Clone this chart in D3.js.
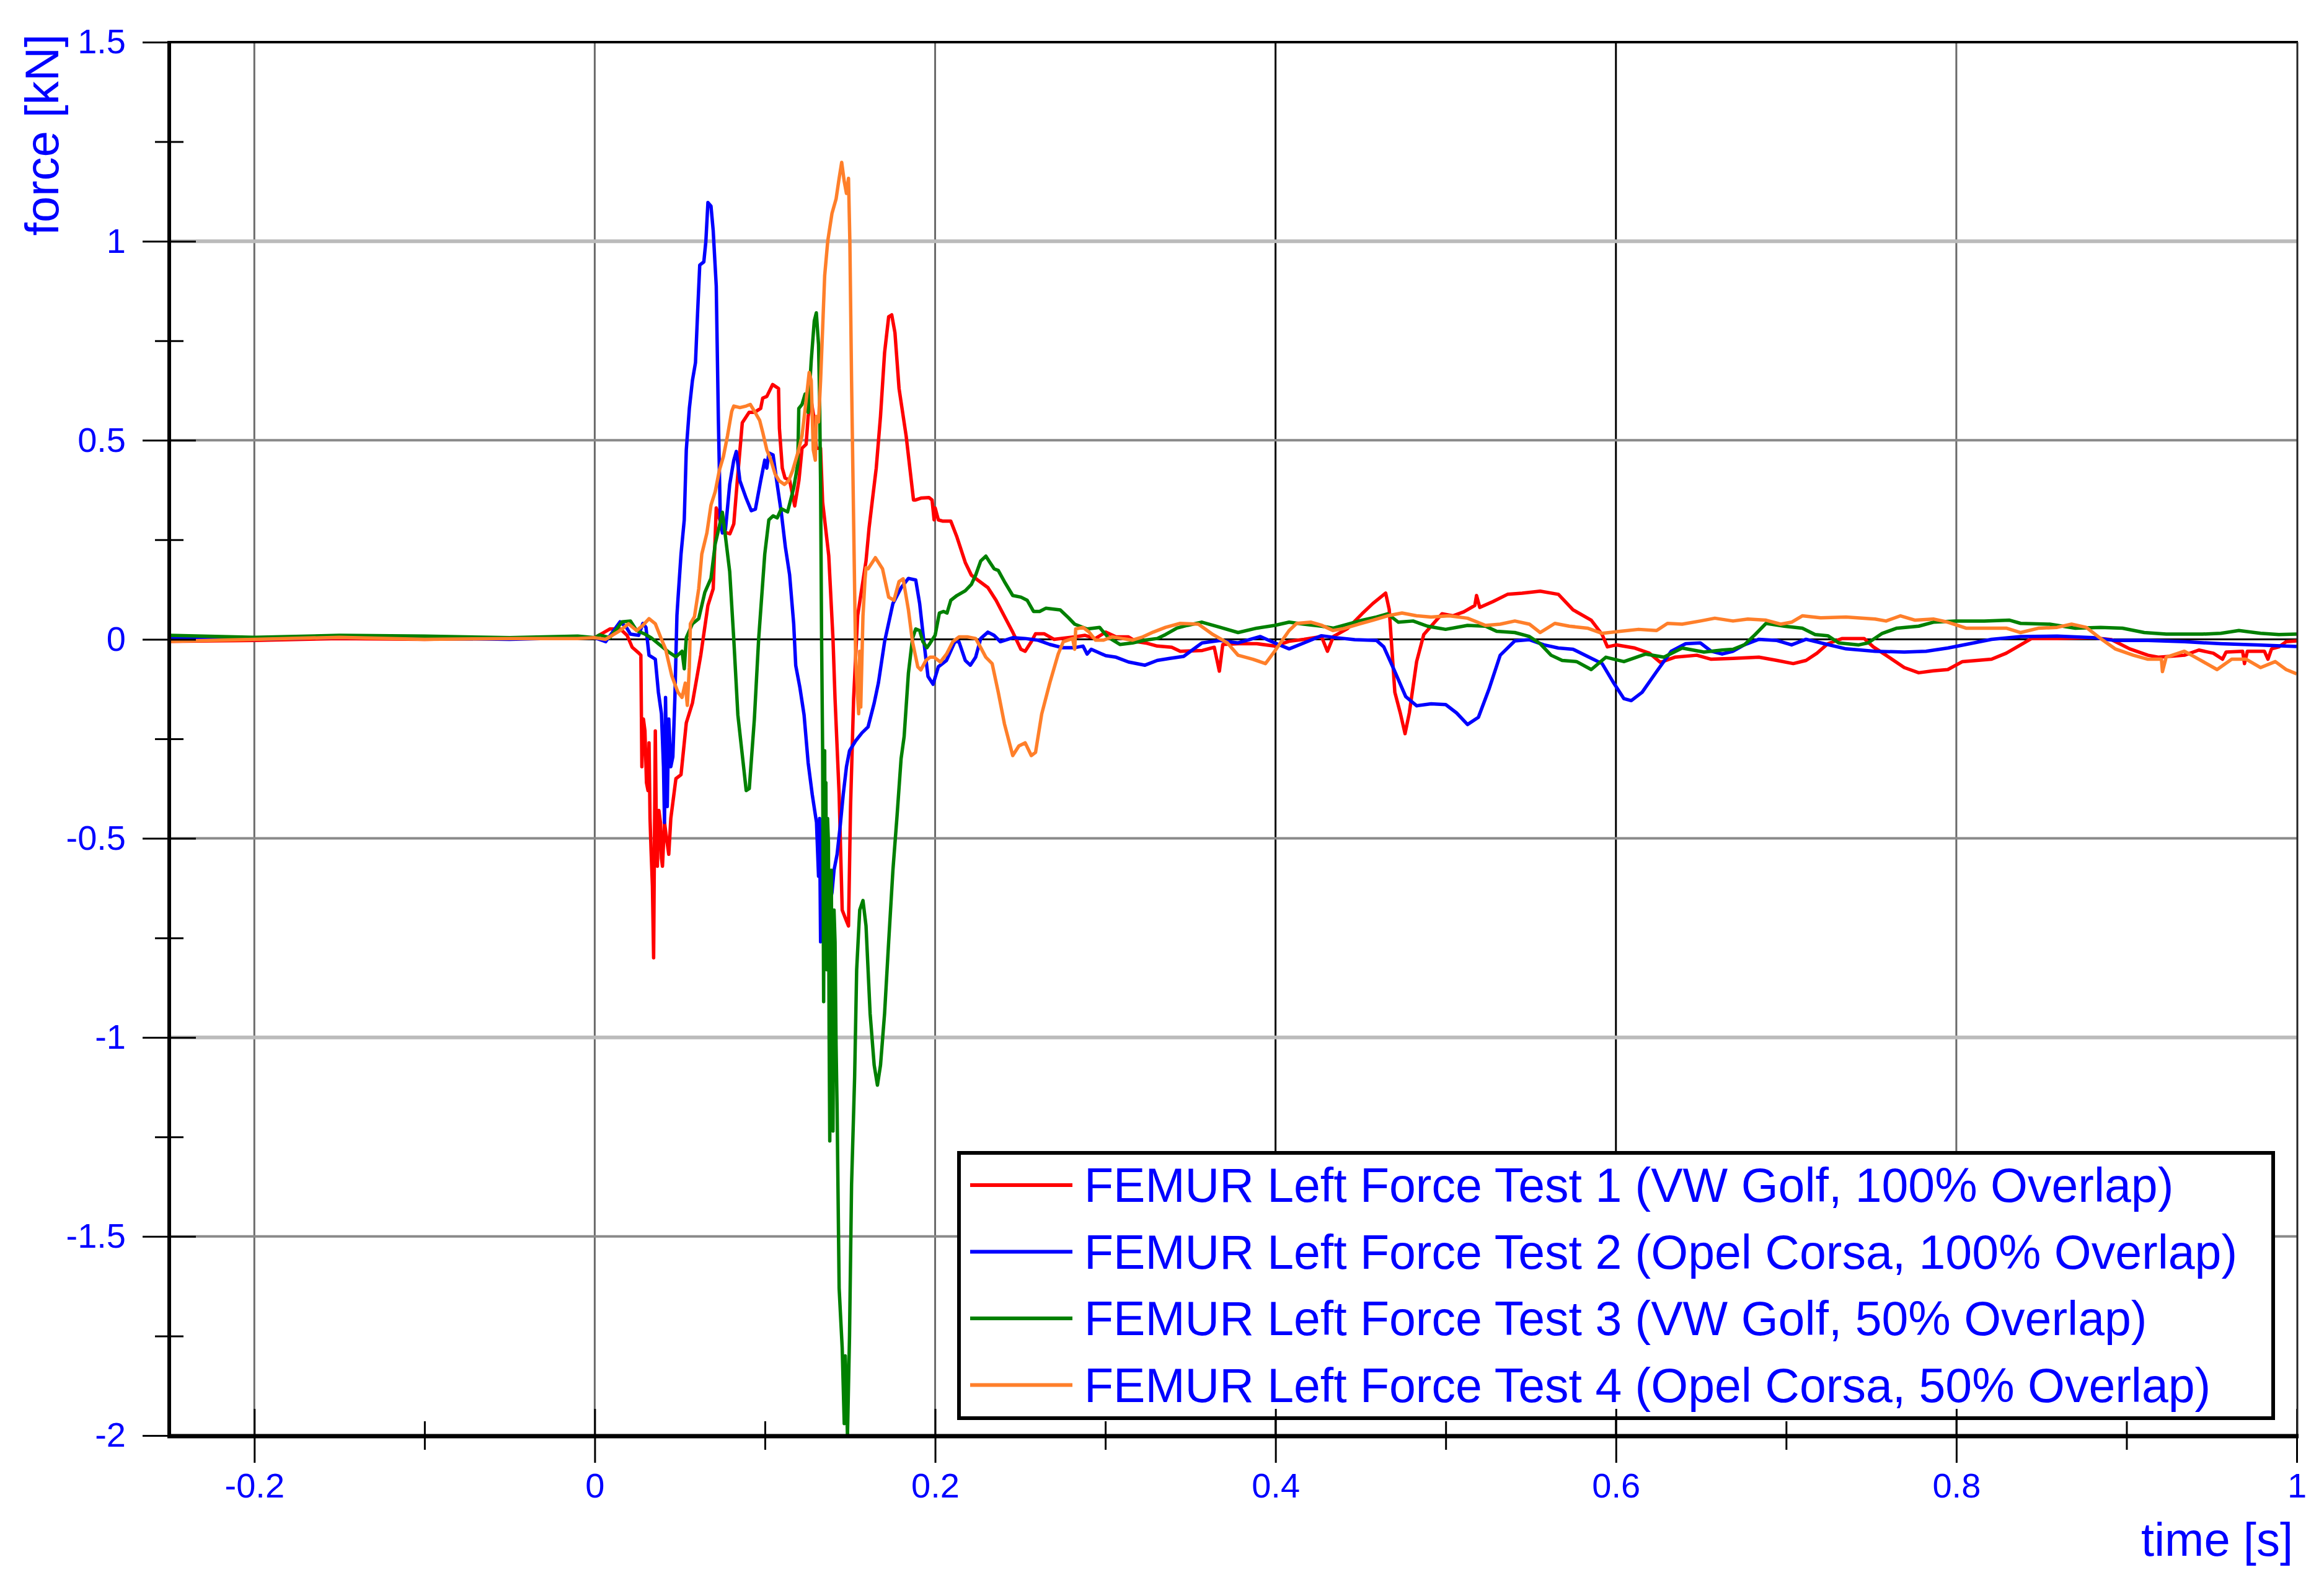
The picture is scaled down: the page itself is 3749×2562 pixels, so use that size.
<!DOCTYPE html>
<html>
<head>
<meta charset="utf-8">
<script src="https://cdnjs.cloudflare.com/ajax/libs/d3/7.8.5/d3.min.js"></script>
<style>
  body { margin: 0; background: #fff; }
  text { font-family: "Liberation Sans", Arial, sans-serif; fill: #0000ff; }
</style>
</head>
<body>
<div class="chart"></div>
<script>
//Series names (legend order)
var seriesNames = [
  "FEMUR Left Force Test 1 (VW Golf, 100% Overlap)",
  "FEMUR Left Force Test 2 (Opel Corsa, 100% Overlap)",
  "FEMUR Left Force Test 3 (VW Golf, 50% Overlap)",
  "FEMUR Left Force Test 4 (Opel Corsa, 50% Overlap)"
];
var seriesColors = ["#ff0000", "#0000ff", "#008000", "#ff7f2a"];

//Tick values
var xMajorTicks = [-0.2, 0, 0.2, 0.4, 0.6, 0.8, 1];
var xMinorTicks = [-0.1, 0.1, 0.3, 0.5, 0.7, 0.9];
var yMajorTicks = [1.5, 1, 0.5, 0, -0.5, -1, -1.5, -2];
var yMinorTicks = [1.25, 0.75, 0.25, -0.25, -0.75, -1.25, -1.75];

//Test 1 : [time s, force kN]
var test1 = [[-0.25,-0.005],[-0.2,-0.003],[-0.15,0.002],[-0.1,0],[-0.05,0.003],[-0.01,0.004],[0,0.004],[0.009,0.026],[0.015,0.026],[0.019,0.01],[0.022,-0.02],[0.026,-0.035],
  [0.0271,-0.04],[0.0277,-0.32],[0.0286,-0.2],[0.0295,-0.23],[0.0304,-0.36],[0.0313,-0.38],[0.0319,-0.26],[0.0325,-0.45],[0.0331,-0.53],[0.0339,-0.62],[0.0346,-0.80],[0.0351,-0.5],[0.0356,-0.23],[0.0362,-0.48],[0.0368,-0.57],[0.0377,-0.43],[0.0386,-0.46],[0.0392,-0.55],[0.0398,-0.57],[0.041,-0.46],[0.0422,-0.5],[0.0435,-0.54],[0.0447,-0.45],[0.0477,-0.35],[0.0507,-0.34],[0.0538,-0.21],[0.0574,-0.16],[0.0623,-0.04],[0.0665,0.085],[0.0696,0.127],
  [0.0714,0.33],[0.0756,0.27],[0.0794,0.265],[0.0817,0.29],[0.0838,0.40],[0.0867,0.544],[0.0907,0.57],[0.0938,0.57],[0.0975,0.58],[0.0987,0.606],[0.1011,0.61],[0.1045,0.64],[0.108,0.63],[0.1085,0.53],[0.1102,0.43],[0.1118,0.405],[0.1145,0.40],[0.1175,0.335],[0.12,0.40],[0.1218,0.48],[0.1242,0.49],[0.1254,0.56],[0.1272,0.60],[0.129,0.55],[0.1302,0.48],[0.1327,0.48],[0.1339,0.345],[0.1375,0.21],[0.14,0],[0.1412,-0.15],[0.1436,-0.39],[0.1454,-0.68],[0.1472,-0.70],[0.1491,-0.72],[0.1503,-0.42],[0.1521,-0.15],[0.1545,0.06],[0.1594,0.197],[0.1612,0.28],[0.163,0.345],[0.1654,0.43],[0.1679,0.56],[0.1703,0.72],[0.1727,0.81],[0.1745,0.815],[0.1764,0.77],[0.1788,0.63],[0.183,0.51],[0.1873,0.35],[0.1885,0.35],[0.192,0.355],[0.1964,0.356],[0.1982,0.35],[0.1994,0.30],[0.2,0.33],[0.2019,0.30],[0.2043,0.297],[0.2092,0.297],[0.2128,0.257],[0.2177,0.193],[0.2213,0.161],[0.225,0.149],[0.231,0.13],[0.2358,0.098],[0.2407,0.058],[0.2456,0.018],[0.2504,-0.025],[0.2529,-0.03],[0.2565,-0.006],[0.259,0.014],[0.264,0.014],[0.2698,0],[0.2759,0.003],[0.282,0.006],[0.2881,0.01],[0.2942,0.002],[0.3002,0.018],[0.3063,0.006],[0.3136,0.006],[0.3184,-0.006],[0.3245,-0.01],[0.3305,-0.017],[0.339,-0.02],[0.344,-0.03],[0.357,-0.028],[0.364,-0.02],[0.367,-0.08],[0.369,-0.013],[0.378,-0.011],[0.389,-0.011],[0.3995,-0.017],[0.408,-0.005],[0.4167,0],[0.427,0.007],[0.4305,-0.03],[0.434,0.007],[0.4423,0.027],[0.4508,0.064],[0.4572,0.09],[0.4647,0.116],[0.4668,0.075],[0.4701,-0.133],[0.4733,-0.185],[0.4761,-0.237],[0.4786,-0.185],[0.4829,-0.056],[0.4871,0.012],[0.4914,0.033],[0.4978,0.064],[0.5042,0.059],[0.5106,0.069],[0.5171,0.085],[0.5181,0.11],[0.52,0.08],[0.5278,0.095],[0.5363,0.113],[0.5449,0.116],[0.5555,0.121],[0.5662,0.113],[0.5748,0.074],[0.5855,0.048],[0.5919,0.012],[0.595,-0.019],[0.6004,-0.014],[0.6111,-0.022],[0.6197,-0.035],[0.6261,-0.058],[0.6346,-0.045],[0.6475,-0.04],[0.656,-0.05],[0.6688,-0.048],[0.684,-0.045],[0.6946,-0.053],[0.7042,-0.061],[0.7117,-0.053],[0.7181,-0.035],[0.7245,-0.011],[0.733,0.002],[0.7459,0.002],[0.7512,-0.019],[0.7587,-0.04],[0.7694,-0.071],[0.7779,-0.084],[0.7865,-0.079],[0.795,-0.076],[0.8036,-0.056],[0.8207,-0.05],[0.8293,-0.035],[0.8378,-0.014],[0.8442,0.002],[0.8592,0.002],[0.8805,0.004],[0.8912,-0.001],[0.9019,-0.024],[0.9126,-0.04],[0.919,-0.045],[0.934,-0.04],[0.9425,-0.027],[0.951,-0.035],[0.9564,-0.05],[0.9585,-0.032],[0.9682,-0.03],[0.9693,-0.061],[0.971,-0.03],[0.981,-0.03],[0.9831,-0.05],[0.9852,-0.024],[0.9895,-0.019],[0.9938,-0.006],[1,-0.004]];

//Test 2
var test2 = [[-0.25,0.003],[-0.2,0],[-0.15,0.005],[-0.1,0.002],[-0.05,0],[-0.01,0.004],[0,0.004],[0.0064,-0.006],[0.0149,0.044],[0.0186,0.03],[0.021,0.013],[0.0258,0.01],[0.0283,0.04],[0.0301,0.03],[0.0319,-0.04],[0.0356,-0.05],[0.0374,-0.133],[0.0392,-0.187],[0.0404,-0.32],[0.041,-0.46],[0.0416,-0.146],[0.0426,-0.42],[0.0435,-0.2],[0.0447,-0.32],[0.0459,-0.295],[0.0471,-0.146],[0.0483,0.06],[0.0489,0.10],[0.0507,0.214],[0.0526,0.30],[0.0538,0.476],[0.0556,0.58],[0.0574,0.65],[0.0592,0.695],[0.0605,0.826],[0.0617,0.94],[0.0641,0.948],[0.0653,1.0],[0.0665,1.097],[0.0683,1.088],[0.0696,1.027],[0.0714,0.887],[0.0726,0.564],[0.0738,0.30],[0.075,0.267],[0.0768,0.275],[0.0793,0.389],[0.0817,0.45],[0.0832,0.472],[0.0853,0.398],[0.089,0.354],[0.092,0.323],[0.0944,0.327],[0.0975,0.398],[0.0999,0.45],[0.1011,0.43],[0.1023,0.468],[0.1048,0.463],[0.1072,0.389],[0.1096,0.319],[0.112,0.232],[0.1145,0.162],[0.1169,0.039],[0.1181,-0.066],[0.1205,-0.12],[0.123,-0.19],[0.1254,-0.31],[0.1278,-0.39],[0.1303,-0.46],[0.1315,-0.595],[0.1321,-0.45],[0.1327,-0.76],[0.1345,-0.74],[0.1363,-0.70],[0.1394,-0.636],[0.1406,-0.58],[0.1424,-0.54],[0.1442,-0.47],[0.146,-0.39],[0.1479,-0.32],[0.1497,-0.28],[0.1533,-0.255],[0.157,-0.235],[0.1606,-0.22],[0.1642,-0.16],[0.1667,-0.109],[0.1703,-0.006],[0.1752,0.09],[0.1801,0.13],[0.1843,0.153],[0.1886,0.149],[0.1909,0.09],[0.1934,-0.006],[0.1958,-0.093],[0.1988,-0.113],[0.2019,-0.069],[0.2067,-0.053],[0.2116,-0.006],[0.214,-0.006],[0.2177,-0.053],[0.2207,-0.065],[0.2238,-0.045],[0.2268,0.002],[0.231,0.018],[0.2346,0.01],[0.2383,-0.006],[0.2456,0.004],[0.2529,0.002],[0.2602,-0.002],[0.2674,-0.013],[0.2747,-0.021],[0.282,-0.021],[0.2869,-0.017],[0.2893,-0.037],[0.2917,-0.025],[0.3002,-0.041],[0.3063,-0.045],[0.3136,-0.057],[0.3233,-0.065],[0.3305,-0.053],[0.3378,-0.048],[0.346,-0.043],[0.3568,-0.009],[0.3675,-0.003],[0.378,-0.009],[0.3911,0.007],[0.3995,-0.009],[0.408,-0.024],[0.4167,-0.009],[0.427,0.009],[0.4358,0.004],[0.4465,-0.001],[0.4594,-0.003],[0.4636,-0.019],[0.4701,-0.081],[0.4765,-0.144],[0.4829,-0.167],[0.4914,-0.162],[0.5,-0.164],[0.5064,-0.185],[0.5128,-0.214],[0.5192,-0.196],[0.5256,-0.123],[0.532,-0.04],[0.5406,-0.004],[0.5492,-0.001],[0.5577,-0.014],[0.5662,-0.022],[0.5748,-0.025],[0.5833,-0.043],[0.5919,-0.061],[0.5983,-0.107],[0.6047,-0.149],[0.609,-0.154],[0.6154,-0.133],[0.6239,-0.081],[0.6325,-0.03],[0.641,-0.011],[0.6496,-0.009],[0.656,-0.03],[0.6624,-0.037],[0.6688,-0.03],[0.6754,-0.014],[0.684,0],[0.6946,-0.003],[0.7032,-0.014],[0.7117,0],[0.7224,-0.011],[0.7352,-0.024],[0.7523,-0.03],[0.7694,-0.032],[0.7822,-0.03],[0.795,-0.022],[0.8079,-0.011],[0.8207,0],[0.8378,0.007],[0.8592,0.008],[0.8805,0.004],[0.8933,-0.003],[0.9126,-0.003],[0.934,-0.006],[0.9554,-0.011],[0.9768,-0.014],[1,-0.018]];

//Test 3
var test3 = [[-0.25,0.01],[-0.2,0.005],[-0.15,0.01],[-0.1,0.008],[-0.05,0.004],[-0.01,0.008],[0,0.004],[0.0028,0.011],[0.0089,0.004],[0.0161,0.044],[0.021,0.046],[0.0246,0.022],[0.0295,0.013],[0.0331,0.004],[0.038,-0.013],[0.0428,-0.03],[0.0477,-0.044],[0.0513,-0.03],[0.0526,-0.074],[0.0538,0.004],[0.0574,0.039],[0.0611,0.052],[0.0647,0.118],[0.0683,0.153],[0.0708,0.24],[0.0732,0.284],[0.075,0.319],[0.0768,0.258],[0.0793,0.17],[0.0817,0],[0.0841,-0.19],[0.0872,-0.31],[0.089,-0.38],[0.0908,-0.375],[0.0938,-0.2],[0.0963,0],[0.0999,0.214],[0.1023,0.30],[0.1048,0.31],[0.1072,0.305],[0.1096,0.328],[0.1133,0.32],[0.1169,0.38],[0.1193,0.44],[0.1199,0.58],[0.1218,0.59],[0.1236,0.616],[0.1254,0.57],[0.1272,0.70],[0.129,0.80],[0.1302,0.82],[0.1315,0.74],[0.1321,0.61],[0.1327,0.39],[0.1333,0],[0.1339,-0.28],[0.1342,-0.62],[0.1345,-0.91],[0.1348,-0.42],[0.1351,-0.28],[0.1355,-0.78],[0.1358,-0.36],[0.1363,-0.83],[0.1368,-0.45],[0.1373,-0.51],[0.1377,-0.98],[0.1381,-1.26],[0.1386,-0.72],[0.139,-0.58],[0.1395,-1.05],[0.14,-1.235],[0.1406,-0.68],[0.1412,-0.76],[0.1418,-1.02],[0.1424,-1.18],[0.1436,-1.63],[0.1454,-1.78],[0.1466,-1.97],[0.1472,-1.80],[0.1485,-2.0],[0.1497,-1.75],[0.1509,-1.37],[0.1527,-1.10],[0.1539,-0.83],[0.1557,-0.68],[0.1576,-0.656],[0.1594,-0.72],[0.1618,-0.94],[0.1642,-1.07],[0.1661,-1.12],[0.1679,-1.07],[0.1703,-0.94],[0.1727,-0.76],[0.1752,-0.58],[0.1776,-0.445],[0.18,-0.30],[0.1818,-0.244],[0.1843,-0.085],[0.1867,0.002],[0.1886,0.026],[0.1909,0.022],[0.1928,-0.006],[0.1952,-0.021],[0.197,-0.01],[0.2,0.01],[0.2025,0.066],[0.2049,0.07],[0.207,0.066],[0.2092,0.098],[0.2128,0.11],[0.2177,0.122],[0.2213,0.138],[0.2238,0.161],[0.2268,0.197],[0.2298,0.209],[0.2322,0.193],[0.2347,0.177],[0.2371,0.173],[0.2407,0.145],[0.2456,0.11],[0.2504,0.106],[0.2541,0.098],[0.2578,0.07],[0.2614,0.07],[0.265,0.078],[0.2735,0.074],[0.2784,0.054],[0.282,0.038],[0.2893,0.026],[0.2966,0.03],[0.3014,0.006],[0.3087,-0.013],[0.316,-0.009],[0.3233,-0.002],[0.3305,0.002],[0.3354,0.012],[0.342,0.028],[0.3482,0.035],[0.3568,0.043],[0.3675,0.03],[0.378,0.017],[0.389,0.028],[0.3995,0.035],[0.408,0.043],[0.4167,0.038],[0.427,0.033],[0.434,0.028],[0.4423,0.038],[0.4508,0.048],[0.4594,0.056],[0.4658,0.064],[0.4722,0.043],[0.4808,0.046],[0.4893,0.033],[0.4999,0.025],[0.5128,0.035],[0.5234,0.033],[0.5299,0.02],[0.5406,0.017],[0.5492,0.007],[0.5555,-0.011],[0.5619,-0.04],[0.5684,-0.053],[0.5769,-0.056],[0.5855,-0.076],[0.5941,-0.045],[0.6047,-0.056],[0.6175,-0.037],[0.6282,-0.045],[0.6389,-0.022],[0.6517,-0.032],[0.6624,-0.027],[0.6688,-0.025],[0.6754,-0.014],[0.6818,0.012],[0.6882,0.04],[0.6989,0.033],[0.7095,0.028],[0.717,0.012],[0.7245,0.009],[0.7309,-0.009],[0.7427,-0.014],[0.7481,-0.009],[0.7565,0.015],[0.7651,0.028],[0.7779,0.033],[0.7865,0.043],[0.7993,0.046],[0.8164,0.046],[0.8313,0.048],[0.8378,0.04],[0.8549,0.038],[0.8699,0.028],[0.8848,0.03],[0.8976,0.028],[0.9104,0.017],[0.9233,0.013],[0.9446,0.013],[0.9554,0.015],[0.966,0.022],[0.9788,0.015],[0.9895,0.012],[1,0.013]];

//Test 4
var test4 = [[-0.25,-0.005],[-0.2,0],[-0.15,0.005],[-0.1,0],[-0.05,0.002],[-0.01,0.002],[0,0.004],[0.0064,0],[0.0149,0.022],[0.0198,0.039],[0.0246,0.022],[0.0283,0.035],[0.0319,0.052],[0.0356,0.039],[0.0392,0],[0.0416,-0.024],[0.0453,-0.092],[0.0489,-0.133],[0.0513,-0.146],[0.0532,-0.11],[0.0544,-0.166],[0.0556,-0.07],[0.0562,0.039],[0.0586,0.057],[0.0611,0.127],[0.0629,0.214],[0.0659,0.267],[0.0683,0.337],[0.0708,0.371],[0.0732,0.424],[0.0756,0.459],[0.078,0.511],[0.0805,0.573],[0.0817,0.586],[0.0853,0.582],[0.089,0.586],[0.0914,0.59],[0.0938,0.573],[0.0969,0.55],[0.0987,0.52],[0.1011,0.476],[0.1035,0.45],[0.106,0.415],[0.1084,0.398],[0.1114,0.389],[0.1139,0.398],[0.1163,0.424],[0.1193,0.468],[0.1218,0.511],[0.1242,0.60],[0.126,0.67],[0.1272,0.65],[0.1284,0.476],[0.1296,0.45],[0.1302,0.56],[0.1315,0.546],[0.1327,0.65],[0.1339,0.78],[0.1351,0.913],[0.1369,1.0],[0.1394,1.07],[0.1418,1.106],[0.1436,1.158],[0.1451,1.198],[0.1466,1.15],[0.1479,1.12],[0.1491,1.158],[0.1499,1.0],[0.1509,0.65],[0.1521,0.30],[0.1533,-0.048],[0.1545,-0.146],[0.1551,-0.187],[0.1557,-0.03],[0.1563,-0.17],[0.1576,0.058],[0.1588,0.15],[0.1594,0.18],[0.1606,0.177],[0.1649,0.205],[0.1691,0.177],[0.1727,0.106],[0.1758,0.098],[0.1788,0.145],[0.1812,0.152],[0.1843,0.074],[0.1867,-0.006],[0.1898,-0.069],[0.1916,-0.077],[0.1946,-0.053],[0.197,-0.045],[0.1994,-0.045],[0.2031,-0.057],[0.2067,-0.037],[0.2104,-0.006],[0.214,0.006],[0.2189,0.006],[0.2238,0.002],[0.2268,-0.021],[0.2298,-0.045],[0.2335,-0.061],[0.2371,-0.133],[0.2407,-0.212],[0.2456,-0.292],[0.2492,-0.268],[0.2529,-0.26],[0.2565,-0.292],[0.259,-0.284],[0.2626,-0.188],[0.2674,-0.109],[0.2723,-0.037],[0.2753,-0.006],[0.2808,0.002],[0.282,-0.025],[0.2826,0.026],[0.2869,0.03],[0.2905,0.018],[0.2942,-0.002],[0.299,-0.002],[0.3039,0.006],[0.3099,0.002],[0.316,-0.002],[0.322,0.006],[0.3281,0.018],[0.3354,0.03],[0.344,0.04],[0.3547,0.038],[0.3632,0.012],[0.3717,-0.009],[0.378,-0.04],[0.3867,-0.05],[0.3941,-0.061],[0.3995,-0.03],[0.408,0.022],[0.4124,0.04],[0.4209,0.043],[0.4273,0.035],[0.4337,0.022],[0.4401,0.027],[0.4487,0.038],[0.4572,0.048],[0.4658,0.059],[0.4743,0.066],[0.4829,0.059],[0.4914,0.056],[0.502,0.059],[0.5128,0.053],[0.5234,0.035],[0.532,0.038],[0.5406,0.046],[0.5492,0.038],[0.5555,0.017],[0.5641,0.04],[0.5726,0.033],[0.5833,0.028],[0.5919,0.015],[0.6026,0.02],[0.6133,0.025],[0.6239,0.022],[0.6303,0.04],[0.6389,0.038],[0.6496,0.046],[0.6581,0.053],[0.6688,0.046],[0.6775,0.051],[0.6882,0.048],[0.6968,0.038],[0.7032,0.043],[0.7095,0.059],[0.7203,0.054],[0.7352,0.056],[0.7523,0.051],[0.7587,0.046],[0.7672,0.059],[0.7758,0.048],[0.7865,0.051],[0.795,0.043],[0.8057,0.028],[0.8164,0.028],[0.8293,0.028],[0.8378,0.017],[0.8485,0.028],[0.8592,0.03],[0.8677,0.038],[0.8763,0.03],[0.8848,0.002],[0.8933,-0.024],[0.904,-0.04],[0.9126,-0.05],[0.9205,-0.05],[0.9211,-0.081],[0.9233,-0.045],[0.934,-0.03],[0.9425,-0.05],[0.9532,-0.076],[0.9618,-0.05],[0.9703,-0.05],[0.9788,-0.071],[0.9874,-0.056],[0.9938,-0.076],[1,-0.087]];

var allSeries = [test1, test2, test3, test4];

//SVG area
var svgWidth = 3749;
var svgHeight = 2562;
var plot = {left: 273, right: 3705, top: 68, bottom: 2316};

var svg = d3.select(".chart")
  .append("svg")
  .attr("width", svgWidth)
  .attr("height", svgHeight)
  .style("display", "block");

svg.append("rect").attr("width", svgWidth).attr("height", svgHeight).attr("fill", "#fff");

//Scales
var xScale = d3.scaleLinear().domain([-0.25, 1]).range([plot.left, plot.right]);
var yScale = d3.scaleLinear().domain([-2, 1.5]).range([plot.bottom, plot.top]);

//Grid lines
var grid = svg.append("g");
grid.selectAll(".vgrid")
  .data(xMajorTicks.filter(function(d) { return d < 1; }))
  .enter().append("line")
  .attr("x1", function(d) { return xScale(d); })
  .attr("x2", function(d) { return xScale(d); })
  .attr("y1", plot.top).attr("y2", plot.bottom)
  .attr("stroke", function(d) { return (d === 0.4 || d === 0.6) ? "#000" : "#6a6a6a"; })
  .attr("stroke-width", 3);

grid.selectAll(".hgrid")
  .data(yMajorTicks.filter(function(d) { return d < 1.5 && d > -2; }))
  .enter().append("line")
  .attr("x1", plot.left).attr("x2", plot.right)
  .attr("y1", function(d) { return yScale(d); })
  .attr("y2", function(d) { return yScale(d); })
  .attr("stroke", function(d) { return d === 0 ? "#000" : (Math.abs(d) === 1 ? "#bbbbbb" : "#8a8a8a"); })
  .attr("stroke-width", function(d) { return d === 0 ? 3 : (Math.abs(d) === 1 ? 6 : 4); });

//Clip the curves to the plot area
svg.append("clipPath").attr("id", "plotClip")
  .append("rect")
  .attr("x", plot.left).attr("y", plot.top - 4)
  .attr("width", plot.right - plot.left).attr("height", plot.bottom - plot.top + 8);

var line = d3.line()
  .x(function(d) { return xScale(d[0]); })
  .y(function(d) { return yScale(d[1]); });

svg.append("g")
  .attr("clip-path", "url(#plotClip)")
  .selectAll("path")
  .data(allSeries)
  .enter().append("path")
  .attr("d", line)
  .attr("fill", "none")
  .attr("stroke", function(d, i) { return seriesColors[i]; })
  .attr("stroke-width", 5.5)
  .attr("stroke-linejoin", "round");

//Legend
var legend = svg.append("g");
legend.append("rect")
  .attr("x", 1547).attr("y", 1860)
  .attr("width", 2120).attr("height", 428)
  .attr("fill", "#fff")
  .attr("stroke", "#000")
  .attr("stroke-width", 6);

var rows = legend.selectAll(".row")
  .data(seriesNames)
  .enter().append("g")
  .attr("transform", function(d, i) { return "translate(0," + (1912 + i * 107.5) + ")"; });

rows.append("line")
  .attr("x1", 1565).attr("x2", 1730)
  .attr("stroke", function(d, i) { return seriesColors[i]; })
  .attr("stroke-width", 6);

rows.append("text")
  .attr("x", 1749).attr("y", 27)
  .style("font-size", "77px")
  .text(function(d) { return d; });

//Bottom axis: major and minor ticks crossing the axis line
var bottomAxis = d3.axisBottom(xScale)
  .tickValues(xMajorTicks)
  .tickSize(44)
  .tickFormat(function(d) { return String(d); });

var xAxisG = svg.append("g")
  .attr("transform", "translate(0," + plot.bottom + ")")
  .call(bottomAxis);
xAxisG.select(".domain").remove();
xAxisG.selectAll(".tick line").attr("y1", -43).attr("stroke", "#000").attr("stroke-width", 3);
xAxisG.selectAll(".tick text")
  .attr("y", 60)
  .attr("fill", "#0000ff")
  .style("font-size", "56px")
  .style("font-family", "Liberation Sans, Arial, sans-serif");

var xMinorG = svg.append("g")
  .attr("transform", "translate(0," + plot.bottom + ")")
  .call(d3.axisBottom(xScale).tickValues(xMinorTicks).tickSize(23).tickFormat(""));
xMinorG.select(".domain").remove();
xMinorG.selectAll(".tick line").attr("y1", -23).attr("stroke", "#000").attr("stroke-width", 3);

//Left axis
var leftAxis = d3.axisLeft(yScale)
  .tickValues(yMajorTicks)
  .tickSize(43)
  .tickFormat(function(d) { return String(d); });

var yAxisG = svg.append("g")
  .attr("transform", "translate(" + plot.left + ",0)")
  .call(leftAxis);
yAxisG.select(".domain").remove();
yAxisG.selectAll(".tick line").attr("x2", -43).attr("x1", 43).attr("stroke", "#000").attr("stroke-width", 3);
yAxisG.selectAll(".tick text")
  .attr("x", -70)
  .attr("fill", "#0000ff")
  .style("font-size", "56px")
  .style("font-family", "Liberation Sans, Arial, sans-serif");

var yMinorG = svg.append("g")
  .attr("transform", "translate(" + plot.left + ",0)")
  .call(d3.axisLeft(yScale).tickValues(yMinorTicks).tickSize(23).tickFormat(""));
yMinorG.select(".domain").remove();
yMinorG.selectAll(".tick line").attr("x1", 23).attr("stroke", "#000").attr("stroke-width", 3);

//Frame
svg.append("line").attr("x1", plot.left).attr("x2", plot.right + 2)
  .attr("y1", plot.top).attr("y2", plot.top)
  .attr("stroke", "#000").attr("stroke-width", 4);
svg.append("line").attr("x1", plot.right + 1).attr("x2", plot.right + 1)
  .attr("y1", plot.top).attr("y2", plot.bottom)
  .attr("stroke", "#222").attr("stroke-width", 3);
svg.append("line").attr("x1", plot.left).attr("x2", plot.left)
  .attr("y1", plot.top - 2).attr("y2", plot.bottom + 3)
  .attr("stroke", "#000").attr("stroke-width", 6);
svg.append("line").attr("x1", plot.left - 3).attr("x2", plot.right + 3)
  .attr("y1", plot.bottom + 1).attr("y2", plot.bottom + 1)
  .attr("stroke", "#000").attr("stroke-width", 7);

//Axis titles
svg.append("text")
  .attr("transform", "translate(94,55) rotate(-90)")
  .style("text-anchor", "end")
  .style("font-size", "76px")
  .text("force [kN]");

svg.append("text")
  .attr("x", 3699).attr("y", 2510)
  .style("text-anchor", "end")
  .style("font-size", "76px")
  .text("time [s]");
</script>
</body>
</html>
